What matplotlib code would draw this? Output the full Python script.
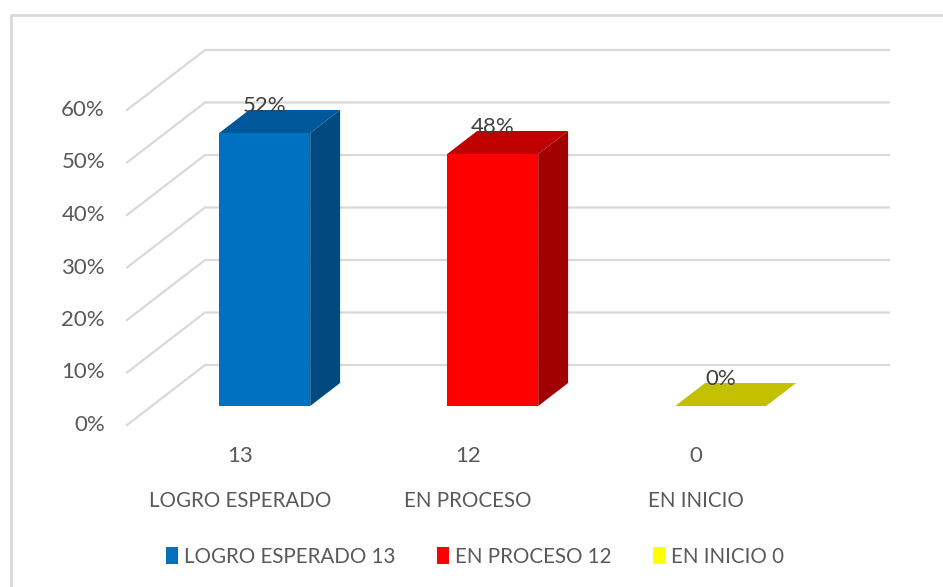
import matplotlib
matplotlib.use("Agg")
import matplotlib.pyplot as plt
from matplotlib.patches import Polygon, Patch
from matplotlib.lines import Line2D

categories = ["LOGRO ESPERADO", "EN PROCESO", "EN INICIO"]
counts = [13, 12, 0]
percents = [52, 48, 0]
yticks = [0, 10, 20, 30, 40, 50, 60]

front_colors = ["#0070C0", "#FF0000", "#FFFF00"]
top_colors = ["#00589A", "#C00000", "#C4C000"]
side_colors = ["#004A7F", "#A00000", "#A8A800"]

plt.rcParams['font.family'] = ['Lato', 'DejaVu Sans']
TXT = "#595959"
GRID = "#D9D9D9"
NUM_FS = 16
WORD_FS = 14.8

W, H = 943, 587
fig = plt.figure(figsize=(W / 100, H / 100), dpi=100)
ax = fig.add_axes([0, 0, 1, 1])

# pixel-based scale helpers (px per category, px per percent)
SX = 228.0
SY = 5.25
X0 = 240.0
Y0 = 425.0
ax.set_xlim(-X0 / SX, (W - X0) / SX)
ax.set_ylim((Y0 - H) / SY, Y0 / SY)
ax.axis("off")

DX = 78.0 / SX   # depth offset per unit z
DY = 60.0 / SY

def proj(x, y, z):
    return (x + z * DX, y + z * DY)

x_left_wall = -X0 / SX + 127.0 / SX
x_right_end = -X0 / SX + 889.0 / SX - DX

# gridlines: left wall diagonals + back wall horizontals
for t in yticks:
    p0 = (x_left_wall, t)
    p1 = proj(x_left_wall, t, 1)
    p2 = proj(x_right_end, t, 1)
    ax.add_line(Line2D([p0[0], p1[0], p2[0]], [p0[1], p1[1], p2[1]],
                       color=GRID, lw=1.6, zorder=1))
    ax.text(x_left_wall - 22.0 / SX, t, f"{t}%", ha="right", va="center",
            fontsize=NUM_FS, color=TXT)

# bars
zf, zb = 19.0 / 60.0, 42.0 / 60.0
bw = 91.0 / SX
for i, (v, fc, tc, sc) in enumerate(zip(percents, front_colors, top_colors, side_colors)):
    fx, fy = proj(i, 0, zf)
    xl, xr = fx - bw / 2, fx + bw / 2
    ddx, ddy = (zb - zf) * DX, (zb - zf) * DY
    if v > 0:
        ax.bar(fx, v, width=bw, bottom=fy, color=fc, zorder=3, linewidth=0)
        side = Polygon([(xr, fy), (xr + ddx, fy + ddy), (xr + ddx, fy + ddy + v), (xr, fy + v)],
                       closed=True, facecolor=sc, edgecolor="none", zorder=3)
        ax.add_patch(side)
    top = Polygon([(xl, fy + v), (xr, fy + v), (xr + ddx, fy + v + ddy), (xl + ddx, fy + v + ddy)],
                  closed=True, facecolor=tc, edgecolor="none", zorder=3)
    ax.add_patch(top)
    ax.annotate(f"{v}%", xy=(fx, fy + v), xytext=(0, 27 * 0.72), textcoords="offset points",
                ha="center", va="center", fontsize=NUM_FS, color="#404040", zorder=5)

# category labels
for i, (c, n) in enumerate(zip(categories, counts)):
    ax.text(i, (Y0 - 456) / SY, str(n), ha="center", va="center", fontsize=NUM_FS, color=TXT)
    ax.text(i, (Y0 - 501) / SY, c, ha="center", va="center", fontsize=WORD_FS, color=TXT)

# chart border (left and top)
ax.add_line(Line2D([(11 - X0) / SX, (11 - X0) / SX, (W - X0) / SX],
                   [(Y0 - H) / SY, (Y0 - 15) / SY, (Y0 - 15) / SY],
                   color="#D9D9D9", lw=2.0, zorder=0))

handles = [Patch(facecolor=c, edgecolor="none") for c in front_colors]
labels = [f"{c} {n}" for c, n in zip(categories, counts)]
fig.legend(handles, labels, loc="center", bbox_to_anchor=(475 / W, 1 - 557 / H), ncol=3,
           frameon=False, fontsize=WORD_FS, labelcolor=TXT, handlelength=0.6, handleheight=0.9,
           handletextpad=0.3, columnspacing=2.0)

fig.savefig("out.png", dpi=100)
